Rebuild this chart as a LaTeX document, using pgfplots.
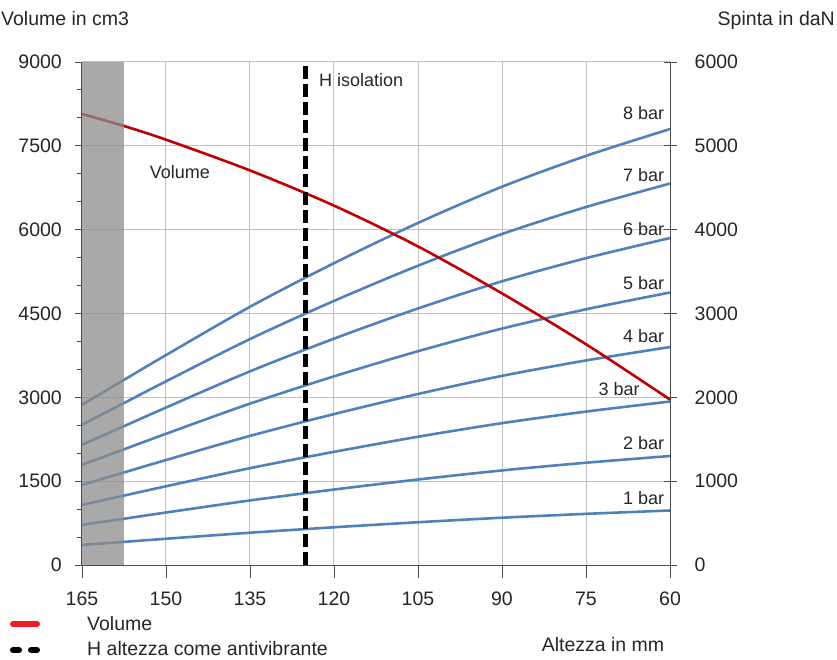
\documentclass[border=0pt]{standalone}
\usepackage{pgfplots}
\pgfplotsset{compat=1.18}
\usepackage{pgfplotstable}
\usepackage{fontspec}
\setmainfont{Liberation Sans}
\definecolor{cblue}{HTML}{4F81BD}
\definecolor{cred}{HTML}{C00000}
\definecolor{lred}{HTML}{EE1C25}
\definecolor{shade}{HTML}{8C8C8C}
\definecolor{gridc}{HTML}{C0C0C0}

\pgfplotstableread{
x v1 v2 v3 v4 v5 v6 v7 v8
165 239 478 717 956 1195 1434 1673 1912
157.5 276 552 828 1104 1380 1656 1932 2208
150 313 626 939 1252 1565 1878 2191 2504
135 385 770 1155 1540 1925 2310 2695 3080
120 450 900 1350 1800 2250 2700 3150 3600
105 510 1020 1530 2040 2550 3060 3570 4080
90 564 1128 1692 2256 2820 3384 3948 4512
75 610 1220 1830 2440 3050 3660 4270 4880
60 650 1300 1950 2600 3250 3900 4550 5200
}\forcetable

\pgfplotstableread{
x vol
165 8070
157.5 7855
150 7610
135 7060
120 6430
105 5700
90 4860
75 3950
60 2960
}\voltable

\begin{document}
\begin{tikzpicture}[x=1pt,y=1pt]
\pgfplotsset{
  base/.style={
    at={(82pt,94pt)}, anchor=south west, scale only axis,
    width=588pt, height=503pt,
    x dir=reverse, xmin=60, xmax=165,
    /pgf/number format/.cd, 1000 sep={}, assume math mode=true, /pgfplots/.cd,
    tick label style={font=\fontsize{19.5}{22}\selectfont, inner sep=0pt, text=black!85},
    axis line style={line width=1pt, gray!60!black},
    every tick/.style={line width=0.9pt, gray!60!black},
  },
  bl/.style={cblue, line width=2.6pt, smooth, mark=none},
}
% Right axis (force) with grid and blue curves
\begin{axis}[base,
  ymin=0, ymax=6000,
  axis y line*=right, axis x line*=bottom,
  xtick={60,75,...,165}, ytick={0,1000,...,6000},
  grid=major, major grid style={gridc, line width=1pt},
  xtick align=outside,
  ytick align=center,
  major tick length=13pt,
  xticklabel style={anchor=north}, xticklabel shift=14pt,
  yticklabel style={anchor=west}, yticklabel shift=18pt,
]
\addplot[bl] table[x=x, y=v1] {\forcetable};
\addplot[bl] table[x=x, y=v2] {\forcetable};
\addplot[bl] table[x=x, y=v3] {\forcetable};
\addplot[bl] table[x=x, y=v4] {\forcetable};
\addplot[bl] table[x=x, y=v5] {\forcetable};
\addplot[bl] table[x=x, y=v6] {\forcetable};
\addplot[bl] table[x=x, y=v7] {\forcetable};
\addplot[bl] table[x=x, y=v8] {\forcetable};
\begin{scope}[every node/.style={font=\fontsize{18}{20}\selectfont, inner sep=0pt, text=black!85}]
\node[anchor=east] at (axis cs:61,5392) {8 bar};
\node[anchor=east] at (axis cs:61,4652) {7 bar};
\node[anchor=east] at (axis cs:61,4008) {6 bar};
\node[anchor=east] at (axis cs:61,3364) {5 bar};
\node[anchor=east] at (axis cs:61,2732) {4 bar};
\node[anchor=east] at (axis cs:65.4,2100) {3 bar};
\node[anchor=east] at (axis cs:61,1455) {2 bar};
\node[anchor=east] at (axis cs:61,799) {1 bar};
\end{scope}
\end{axis}
% Left axis (volume)
\begin{axis}[base,
  ymin=0, ymax=9000,
  axis y line*=left, axis x line=none,
  ytick={0,1500,...,9000}, minor y tick num=2,
  tick align=outside, major tick length=7pt, minor tick length=5pt,
  yticklabel style={anchor=east}, yticklabel shift=13pt,
]
\addplot[cred, line width=2.6pt, smooth, mark=none] table[x=x, y=vol] {\voltable};
\addplot[black, line width=5pt, dash pattern=on 13pt off 5pt, mark=none] coordinates {(125,0) (125,9000)};
\addplot[fill=shade, fill opacity=0.75, draw=none, mark=none] coordinates {(165,0) (157.5,0) (157.5,9000) (165,9000)} -- cycle;
\begin{scope}[every node/.style={font=\fontsize{18}{20}\selectfont, inner sep=0pt, text=black!85}]
\node[anchor=west] at (axis cs:152.9,7032) {Volume};
\node[anchor=west] at (axis cs:122.7,8678) {H isolation};
\end{scope}
\end{axis}
% titles
\begin{scope}[every node/.style={font=\fontsize{19.5}{22}\selectfont, inner sep=0pt, text=black!85}]
\node[anchor=base west] at (1,633) {Volume in cm3};
\node[anchor=base east] at (835,633) {Spinta in daN};
\node[anchor=base] at (603,8) {Altezza in mm};
\node[anchor=base west] at (87,29) {Volume};
\node[anchor=base west] at (87,4) {H altezza come antivibrante};
\end{scope}
\draw[lred, line width=6pt, line cap=round] (13,35) -- (37,35);
\draw[black, line width=6pt, line cap=round] (13,9) -- (19,9) (31,9) -- (37,9);
\pgfresetboundingbox
\path (0,0) rectangle (837,659);
\end{tikzpicture}
\end{document}
